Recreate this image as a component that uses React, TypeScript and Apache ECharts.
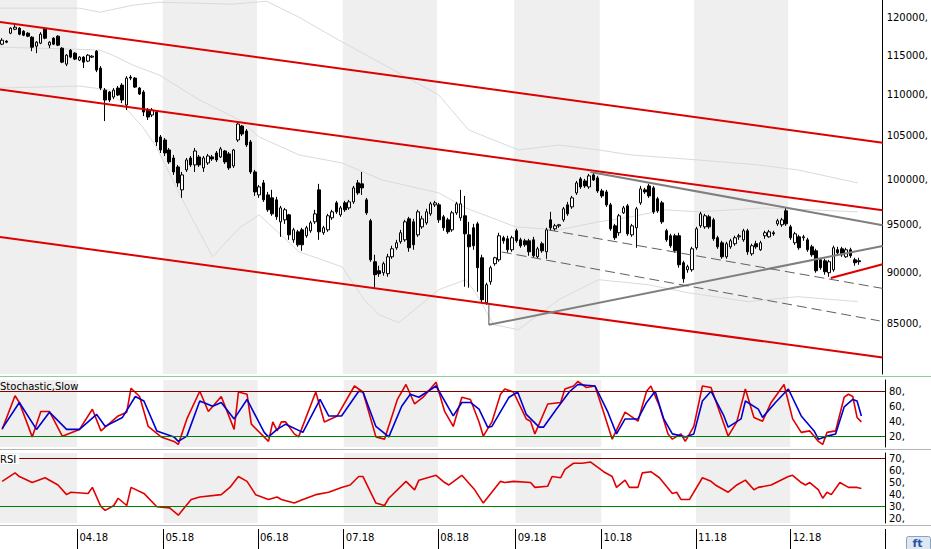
import React, { useEffect, useRef } from 'react';
import * as echarts from 'echarts';

// ---------- data ----------
const monthLabels = ['03.18', '04.18', '05.18', '06.18', '07.18', '08.18', '09.18', '10.18', '11.18', '12.18'];
const monthSessions = [18, 20, 22, 20, 22, 18, 20, 22, 22, 22];

// [open, close, low, high]
const ohlc: number[][] = [
  [116450, 116970, 116320, 117240], [116840, 116710, 116580, 116970], [117900, 118560, 117770, 118700], [118430, 118700, 118300, 118970],
  [118560, 117770, 117630, 118700], [118160, 117630, 117500, 118300], [117900, 117500, 117370, 118030], [117370, 116050, 115530, 117500],
  [116190, 116710, 115270, 116840], [116580, 117770, 116450, 118030], [118430, 117240, 117100, 118700], [116320, 116710, 115920, 116840],
  [117240, 116450, 116320, 117370], [117500, 116320, 116190, 117630], [115920, 114110, 113980, 116050], [113850, 115010, 113600, 115140],
  [115660, 114760, 114630, 115790], [115270, 114500, 114370, 115400], [114370, 114760, 114240, 114880], [114760, 114110, 113340, 114880],
  [114240, 115010, 114110, 115140], [114760, 114880, 114630, 115010], [115530, 113090, 112830, 115660], [113340, 110820, 110560, 113600],
  [110560, 109330, 106770, 110820], [110320, 109330, 109080, 110440], [109700, 110560, 109450, 110820], [110820, 109950, 109820, 111070],
  [111190, 109330, 108960, 111440], [108710, 112070, 108100, 112320], [112200, 112070, 111820, 112450], [112070, 110940, 110820, 112200],
  [110820, 110070, 109950, 110940], [110320, 107860, 107380, 110560], [108100, 107250, 106890, 108350], [107500, 108100, 107250, 108350],
  [107860, 104280, 103810, 107980], [104870, 103340, 102990, 105100], [104510, 102990, 102640, 104750], [103340, 101950, 101720, 103570],
  [102410, 100810, 100470, 102760], [101380, 99570, 99120, 101610], [98790, 100470, 97900, 100810], [101040, 102180, 100810, 102410],
  [102410, 101610, 101380, 102640], [101610, 103220, 100810, 103570], [102530, 101610, 101380, 102760], [101270, 102410, 100810, 102640],
  [101840, 102640, 101610, 102880], [102530, 102300, 102070, 102760], [102990, 102180, 101950, 103220], [102530, 103460, 102410, 103690],
  [103220, 101950, 101720, 103340], [102880, 101270, 101040, 103110], [101490, 103340, 101270, 103460], [104510, 106410, 104280, 106650],
  [106170, 105220, 104980, 106290], [105580, 103920, 103690, 105810], [104280, 100810, 100580, 104510], [100810, 98560, 98120, 101040],
  [98230, 99120, 97900, 99340], [99570, 97680, 97460, 99900], [98230, 96590, 96370, 98560], [97900, 96150, 95940, 98790],
  [97680, 95830, 95500, 98010], [95290, 96800, 93690, 97020], [95500, 96590, 95070, 96800], [96040, 93900, 93370, 96150],
  [93370, 94430, 93060, 94650], [94220, 92850, 92640, 94430], [94430, 92850, 92220, 94650], [93800, 94650, 93590, 94860],
  [94330, 95180, 94120, 95400], [95290, 96150, 95070, 96590], [98790, 94220, 93370, 99460], [94120, 94650, 93900, 94860],
  [94430, 95940, 94220, 96150], [95720, 96370, 95500, 96590], [97350, 96370, 96150, 97570], [96040, 96800, 95830, 97020],
  [97350, 96590, 96370, 97570], [96800, 97460, 96590, 97680], [97460, 99010, 97240, 99230], [99570, 98450, 98230, 99900],
  [99460, 99010, 98230, 100810], [97680, 96260, 96040, 97900], [95400, 91290, 91090, 95610], [91090, 89770, 88460, 91810],
  [90170, 89870, 89560, 90680], [89970, 90890, 89670, 91090], [89870, 91600, 89560, 91910], [91600, 92430, 91400, 92750],
  [92540, 93060, 92330, 93370], [93170, 94120, 92960, 94430], [93370, 95290, 93170, 95500], [95610, 92540, 92120, 95830],
  [95290, 92850, 92330, 95610], [93900, 96370, 93690, 96590], [94750, 95610, 94540, 95940], [95180, 96370, 94970, 96700],
  [96150, 97240, 95940, 97460], [97130, 97350, 96910, 97570], [97130, 95500, 95180, 97350], [95830, 94650, 94330, 96040],
  [95500, 94220, 94010, 95720], [94430, 96260, 94220, 96480], [96260, 97240, 96040, 97460], [95720, 97240, 95400, 98790],
  [95940, 94010, 88560, 98120], [93900, 92640, 88460, 95290], [94650, 92750, 92330, 95070], [95070, 90480, 88060, 95290],
  [91500, 87270, 86980, 91810], [86980, 88760, 86780, 88960], [89060, 90480, 88760, 90680], [90890, 91500, 90680, 91600],
  [91290, 93800, 91090, 94120], [93590, 93270, 92960, 93800], [93480, 92330, 92020, 93800], [92330, 93590, 92120, 93800],
  [94330, 93270, 93060, 94540], [93370, 92750, 92540, 93590], [93270, 92850, 92640, 93480], [93270, 92120, 91710, 93480],
  [93370, 91710, 91500, 93690], [91600, 92430, 91400, 92640], [92960, 92220, 92020, 93170], [92120, 94430, 91400, 94650],
  [95500, 94650, 94330, 96370], [94540, 94860, 94330, 95070], [94860, 94970, 94650, 95070], [95500, 96700, 95290, 96910],
  [97130, 96150, 95940, 97460], [96910, 97900, 96700, 98120], [98450, 99570, 98230, 99790], [100020, 99120, 98900, 100240],
  [99790, 99230, 99010, 100020], [99120, 100360, 98900, 100580], [100470, 99900, 99790, 100700], [100130, 98670, 98450, 100360],
  [98670, 98120, 97900, 98900], [98560, 97130, 96910, 98790], [97130, 94540, 94330, 97350], [94860, 93590, 93370, 95070],
  [94120, 95940, 93800, 96150], [96260, 96800, 96150, 97020], [97020, 94010, 93800, 97240], [93900, 94860, 93690, 95070],
  [94650, 96700, 92540, 96910], [97350, 98900, 97130, 99230], [98790, 98560, 98340, 99010], [99230, 98120, 97900, 99460],
  [99010, 96370, 96150, 99230], [97790, 96480, 96260, 98010], [97350, 95290, 95070, 97570], [94330, 93370, 93170, 94540],
  [93800, 92750, 92540, 94010], [93800, 92220, 92020, 94010], [93800, 90780, 90480, 94120], [90990, 89360, 88960, 91190],
  [90270, 90580, 89970, 90780], [90270, 92430, 90070, 92640], [92540, 94540, 92330, 94750], [94860, 96150, 94650, 96370],
  [94750, 95940, 94540, 96150], [95830, 94750, 94540, 96040], [95500, 93480, 93270, 95720], [93590, 92640, 92430, 93800],
  [93060, 91600, 91400, 93270], [91600, 92960, 91400, 93170], [92640, 93270, 92430, 93480], [92960, 93590, 92750, 93800],
  [93690, 93800, 93370, 94010], [93370, 94330, 93170, 94540], [94330, 92120, 91810, 94540], [91910, 92750, 91710, 92960],
  [92960, 92640, 92430, 93270], [92330, 93060, 92220, 93270], [93800, 94120, 93480, 94330], [93690, 94220, 93590, 94430],
  [94120, 94010, 93800, 94330], [95070, 95400, 94860, 95610], [94970, 95500, 94750, 95720], [96480, 95070, 94860, 96800],
  [94750, 93590, 93370, 94970], [93060, 94010, 92850, 94220], [93690, 92540, 92330, 93900], [93590, 93690, 93270, 93900],
  [93370, 92330, 92120, 93590], [92640, 91810, 91600, 92850], [92220, 90170, 89970, 92430], [91290, 90480, 90270, 91500],
  [91190, 90070, 89770, 91400], [89970, 91090, 89560, 91290], [90270, 92540, 90070, 92750], [92330, 92020, 91710, 92640],
  [92430, 91810, 91600, 92640], [91600, 92330, 91500, 92540], [92330, 91710, 91500, 92540], [91290, 90990, 90680, 91500],
  [91190, 91090, 90780, 91500],
];

// faint envelope bands: [session index, price]
const bandUpper: number[][] = [
  [-0.5, 121270], [18.1, 121270], [22.8, 120720], [30.5, 121680], [36.7, 122090], [53.7, 121820], [61.7, 122230],
  [69.3, 120040], [78.6, 116970], [88.0, 114110], [101.9, 109950], [108.9, 105690], [120.5, 103340], [129.9, 103920],
  [139.2, 103340], [146.8, 102760], [162.4, 102180], [176.4, 101610], [185.7, 101040], [199.7, 99570],
];
const bandMiddle: number[][] = [
  [-0.5, 116050], [17.4, 115790], [22.8, 115660], [25.8, 115010], [30.5, 113730], [36.7, 112450], [46.1, 109330],
  [55.4, 106890], [60.0, 104870], [69.3, 102760], [79.3, 101840], [88.7, 99900], [101.9, 98450], [108.2, 96800],
  [119.8, 94750], [129.9, 94430], [139.2, 95290], [146.8, 95830], [154.8, 96590], [162.4, 96370], [178.0, 96800],
  [199.7, 96370],
];
const bandLower: number[][] = [
  [-0.5, 110820], [18.1, 111070], [25.1, 110560], [32.8, 106050], [36.0, 103690], [42.1, 97680], [49.1, 91600],
  [55.4, 94650], [60.0, 96040], [69.3, 92120], [79.3, 90580], [84.5, 87270], [88.0, 85800], [92.6, 85040],
  [101.9, 88260], [108.2, 89260], [110.5, 87960], [114.7, 84850], [120.5, 84370], [129.9, 87270], [139.2, 89260],
  [150.8, 88760], [160.1, 87960], [174.1, 87080], [185.7, 87570], [199.7, 87080],
];

// [session index, value]
const stochK: number[][] = [
  [0, 29], [3, 74], [4, 65], [7, 19], [9, 53], [11, 53], [14, 20], [18, 29], [21, 56], [23, 27], [27, 47], [29, 52], [30, 84],
  [32, 73], [34, 33], [37, 19], [40, 13], [41, 9], [43, 43], [46, 80], [48, 53], [51, 73], [54, 29], [55, 79], [57, 76], [58, 36],
  [62, 13], [63, 39], [64, 27], [65, 39], [66, 39], [68, 23], [69, 19], [73, 79], [75, 39], [78, 47], [82, 87], [84, 79], [87, 19],
  [89, 16], [92, 69], [94, 89], [96, 63], [98, 72], [101, 92], [103, 53], [105, 33], [107, 72], [109, 69], [111, 39], [112, 20],
  [114, 39], [116, 76], [117, 83], [119, 79], [122, 43], [123, 40], [124, 23], [127, 63], [130, 65], [131, 83], [133, 87], [134, 93],
  [136, 85], [138, 87], [140, 52], [142, 16], [145, 52], [148, 40], [150, 80], [151, 87], [153, 60], [155, 23], [156, 16], [158, 23],
  [159, 13], [161, 33], [163, 87], [165, 85], [169, 20], [171, 39], [173, 83], [175, 45], [177, 40], [179, 65], [182, 89], [184, 43],
  [186, 25], [188, 27], [190, 13], [191, 9], [192, 25], [194, 27], [196, 72], [197, 76], [198, 73], [199, 45], [200, 39],
];
const stochD: number[][] = [
  [0, 30], [4, 65], [8, 29], [11, 52], [15, 29], [18, 29], [22, 49], [24, 33], [28, 45], [31, 73], [33, 67], [36, 27], [40, 19],
  [41, 13], [43, 20], [46, 67], [49, 60], [51, 65], [54, 43], [57, 69], [61, 25], [62, 19], [64, 29], [66, 36], [70, 25], [74, 69],
  [76, 47], [79, 47], [83, 80], [84, 79], [87, 33], [90, 19], [93, 60], [95, 76], [97, 72], [101, 87], [105, 47], [107, 65], [109, 65],
  [111, 56], [113, 32], [114, 33], [118, 72], [120, 79], [122, 49], [125, 32], [126, 32], [129, 56], [132, 79], [134, 89], [138, 87],
  [141, 52], [143, 23], [145, 43], [148, 43], [150, 65], [152, 80], [154, 43], [156, 23], [159, 19], [161, 23], [163, 67], [165, 80],
  [168, 47], [169, 32], [172, 43], [173, 67], [176, 56], [177, 45], [180, 65], [183, 83], [186, 47], [189, 27], [190, 16], [192, 20],
  [194, 23], [196, 59], [198, 69], [199, 67], [200, 47],
];
const rsi: number[][] = [
  [0, 51], [3, 58], [4, 55], [7, 50], [10, 54], [13, 48], [15, 40], [16, 42], [20, 41], [21, 46], [23, 30], [24, 27], [26, 31],
  [27, 37], [29, 31], [30, 46], [33, 41], [36, 30], [39, 29], [41, 23], [44, 36], [46, 38], [51, 40], [53, 46], [55, 55], [57, 51],
  [59, 40], [62, 36], [64, 38], [65, 36], [68, 33], [70, 36], [73, 40], [76, 42], [79, 46], [81, 48], [83, 55], [84, 55], [87, 33],
  [89, 31], [90, 37], [94, 51], [96, 44], [97, 52], [101, 56], [103, 50], [104, 48], [107, 56], [110, 44], [112, 33], [116, 51],
  [117, 50], [119, 51], [123, 50], [124, 46], [127, 47], [128, 55], [130, 54], [131, 61], [133, 66], [135, 66], [137, 67], [140, 59],
  [142, 55], [143, 46], [145, 52], [146, 46], [148, 46], [149, 58], [151, 59], [153, 54], [156, 41], [157, 42], [158, 36], [160, 36],
  [163, 54], [165, 51], [166, 48], [169, 42], [171, 48], [173, 52], [175, 44], [176, 46], [179, 48], [183, 55], [184, 56], [186, 50],
  [187, 48], [188, 50], [190, 44], [191, 37], [192, 42], [193, 40], [195, 50], [197, 46], [199, 46], [200, 45],
];

const priceTicks = [85000, 90000, 95000, 100000, 105000, 110000, 115000, 120000];
const stochTicks = [20, 40, 60, 80];
const rsiTicks = [20, 30, 40, 50, 60, 70];
const priceRange = [80250, 122400];
const stochRange = [5.5, 95];
const rsiRange = [16.5, 74.5];

// drawn trend lines: [session index, price]
const channelUpper = [[-0.5, 119410], [205.5, 104180]];
const channelMiddle = [[-0.5, 110640], [205.5, 96540]];
const channelLower = [[-0.5, 93670], [205.5, 81750]];
const shortSupport = [[193.4, 89440], [205.5, 90840]];
const triangleTop = [[137.3, 100800], [205.5, 94920]];
const triangleBottom = [[113.6, 84830], [205.5, 92730]];
const triangleLeg = [[113.6, 86760], [113.6, 84830]];
const forkUpper = [[127.5, 94420], [205.5, 88390]];
const forkLower = [[116.6, 92100], [204.8, 85210]];

// ---------- option ----------
const FONT = 'DejaVu Sans';
const categories: string[] = [];
const monthStart = new Set<number>();
monthLabels.forEach((m, k) => {
  monthStart.add(categories.length);
  for (let d = 1; d <= monthSessions[k]; d++) categories.push(`${m}#${d}`);
});
const isMonthStart = (i: number) => monthStart.has(i);
const isLabelled = (i: number) => i > 0 && monthStart.has(i);

const bandAxis = (gridIndex: number) => ({
  type: 'category',
  gridIndex,
  data: categories,
  boundaryGap: true,
  axisLine: { show: false },
  axisTick: { show: false },
  axisLabel: { show: false },
  splitLine: { show: false },
  splitArea: { show: true, interval: isMonthStart, areaStyle: { color: ['#efefef', '#ffffff'] } },
});

const labelStyle = { fontFamily: FONT, fontSize: 10, color: '#000' };

const priceLine = (pts: number[][], color: string, width: number, type: any = 'solid', z = 4) => ({
  type: 'line',
  xAxisIndex: 3,
  yAxisIndex: 0,
  data: pts.map(([i, p]) => [i, Math.log(p)]),
  symbol: 'none',
  silent: true,
  z,
  lineStyle: { color, width, type },
});

const levelLines = (levels: [number, string][]) => ({
  symbol: ['none', 'none'],
  silent: true,
  label: { show: false },
  data: levels.map(([v, c]) => ({ yAxis: v, lineStyle: { color: c, width: 1, type: 'solid' } })),
});

const option: any = {
  animation: false,
  backgroundColor: '#ffffff',
  textStyle: { fontFamily: FONT },
  title: [
    { text: 'Stochastic,Slow', left: 0, top: 381, padding: 0, textStyle: { ...labelStyle, fontWeight: 'normal' } },
    { text: 'RSI', left: 0, top: 454, padding: [0, 3, 0, 0], backgroundColor: '#fff', textStyle: { ...labelStyle, fontWeight: 'normal' } },
  ],
  grid: [
    { left: 0, right: 46, top: 0, height: 374 },
    { left: 0, right: 46, top: 380, height: 67 },
    { left: 0, right: 46, top: 453, height: 70 },
  ],
  xAxis: [
    bandAxis(0),
    bandAxis(1),
    {
      ...bandAxis(2),
      position: 'bottom',
      offset: 6,
      axisTick: { show: true, interval: isLabelled, length: 20, lineStyle: { color: '#000' } },
      axisLabel: {
        show: true,
        interval: isLabelled,
        formatter: (v: string) => v.split('#')[0],
        align: 'left',
        margin: 3,
        ...labelStyle,
      },
    },
    { type: 'value', gridIndex: 0, min: -0.5, max: 205.5, show: false },
  ],
  yAxis: [
    {
      type: 'value', gridIndex: 0, position: 'right',
      min: Math.log(priceRange[0]), max: Math.log(priceRange[1]),
      axisLine: { show: true, onZero: false, lineStyle: { color: '#000' } },
      axisTick: { show: false }, splitLine: { show: false },
      axisLabel: {
        customValues: priceTicks.map((p) => Math.log(p)),
        formatter: (v: number) => `${Math.round(Math.exp(v))},`,
        margin: 4, ...labelStyle,
      },
    },
    {
      type: 'value', gridIndex: 1, position: 'right', min: stochRange[0], max: stochRange[1],
      axisLine: { show: true, onZero: false, lineStyle: { color: '#000' } },
      axisTick: { show: false }, splitLine: { show: false },
      axisLabel: { customValues: stochTicks, formatter: (v: number) => `${v},`, margin: 4, ...labelStyle },
    },
    {
      type: 'value', gridIndex: 2, position: 'right', min: rsiRange[0], max: rsiRange[1],
      axisLine: { show: true, onZero: false, lineStyle: { color: '#000' } },
      axisTick: { show: false }, splitLine: { show: false },
      axisLabel: { customValues: rsiTicks, formatter: (v: number) => `${v},`, margin: 4, ...labelStyle },
    },
  ],
  series: [
    priceLine(bandUpper, '#dadada', 1, 'solid', 1),
    priceLine(bandMiddle, '#dadada', 1, 'solid', 1),
    priceLine(bandLower, '#dadada', 1, 'solid', 1),
    {
      type: 'candlestick',
      xAxisIndex: 0,
      yAxisIndex: 0,
      data: ohlc.map((r) => r.map((p) => Math.log(p))),
      barWidth: 3,
      silent: true,
      z: 3,
      itemStyle: { color: '#ffffff', color0: '#000000', borderColor: '#000000', borderColor0: '#000000', borderWidth: 1 },
    },
    priceLine(channelUpper, '#dc0000', 2),
    priceLine(channelMiddle, '#dc0000', 2),
    priceLine(channelLower, '#dc0000', 2),
    priceLine(shortSupport, '#dc0000', 2),
    priceLine(triangleTop, '#7f7f7f', 2),
    priceLine(triangleBottom, '#7f7f7f', 2),
    priceLine(triangleLeg, '#505050', 1),
    priceLine(forkUpper, '#606060', 1, [10, 5]),
    priceLine(forkLower, '#606060', 1, [10, 5]),
    {
      type: 'line', xAxisIndex: 1, yAxisIndex: 1, data: stochK, symbol: 'none', silent: true, z: 3,
      lineStyle: { color: '#e00000', width: 1.6 },
      markLine: levelLines([[80, '#800000'], [20, '#008000']]),
    },
    {
      type: 'line', xAxisIndex: 1, yAxisIndex: 1, data: stochD, symbol: 'none', silent: true, z: 4,
      lineStyle: { color: '#0000d0', width: 1.6 },
    },
    {
      type: 'line', xAxisIndex: 2, yAxisIndex: 2, data: rsi, symbol: 'none', silent: true, z: 3,
      lineStyle: { color: '#e00000', width: 1.6 },
      markLine: levelLines([[70, '#800000'], [30, '#008000']]),
    },
  ],
  graphic: [
    { type: 'line', silent: true, shape: { x1: 0, y1: 376.5, x2: 931, y2: 376.5 }, style: { stroke: '#8fce8f', lineWidth: 1 } },
    { type: 'line', silent: true, shape: { x1: 0, y1: 449.5, x2: 931, y2: 449.5 }, style: { stroke: '#b4b4b4', lineWidth: 1 } },
    { type: 'line', silent: true, shape: { x1: 0, y1: 525.5, x2: 931, y2: 525.5 }, style: { stroke: '#b4b4b4', lineWidth: 1 } },
    {
      type: 'group', left: 906, top: 536, silent: true,
      children: [
        { type: 'rect', shape: { x: 0, y: 0, width: 24, height: 14, r: 2 }, style: { fill: '#dfe7f1', stroke: '#8aa2c0', lineWidth: 1 } },
        { type: 'text', x: 6, y: 1, style: { text: 'ft', fill: '#2255aa', font: 'bold 11px DejaVu Sans' } },
      ],
    },
  ],
};

export default function App() {
  const ref = useRef<HTMLDivElement>(null);
  useEffect(() => {
    const chart = echarts.init(ref.current!, null, { renderer: 'svg' });
    chart.setOption(option);
    return () => chart.dispose();
  }, []);
  return (
    <div
      ref={ref}
      style={{ position: 'fixed', left: 0, top: 0, width: 931, height: 549, background: '#fff' }}
    />
  );
}
